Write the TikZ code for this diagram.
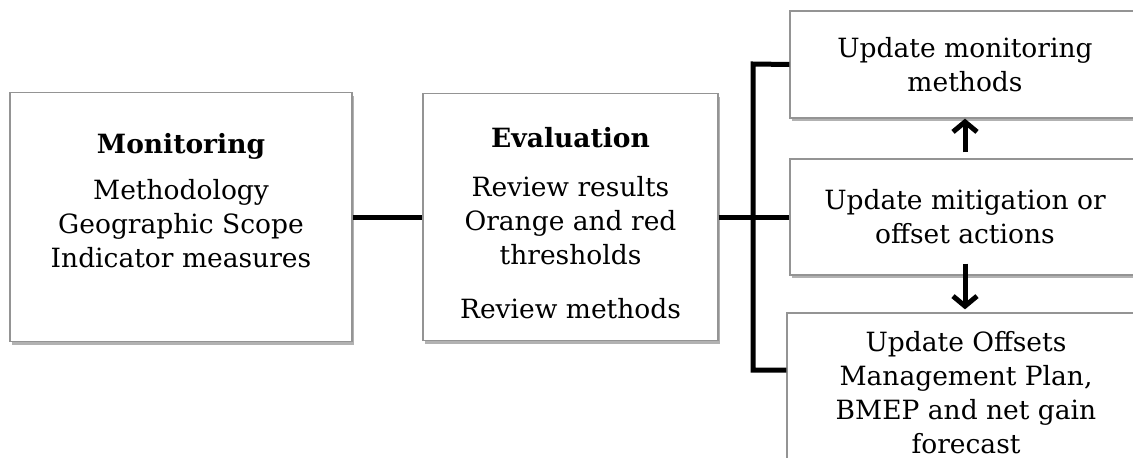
\documentclass[tikz,border=0pt]{standalone}
\usepackage{fontspec}
\setmainfont{DejaVu Serif}
\usetikzlibrary{arrows.meta,shadows}

\begin{document}
\begin{tikzpicture}[x=1pt,y=-1pt,
  stagebox/.style={draw=black!42, line width=1.3pt, fill=white, inner sep=0pt,
    align=center, font=\fontsize{26.5}{34}\selectfont,
    drop shadow={shadow xshift=1.5pt, shadow yshift=-3pt, opacity=.5, fill=black!60}},
  link/.style={line width=5pt},
  flow/.style={line width=5pt, -{Straight Barb[length=10pt,width=24pt]}}]
\useasboundingbox (0,0) rectangle (1133,458);
\clip (0,0) rectangle (1133,458);

\node [stagebox, minimum width=342, minimum height=249] (mon) at (181,217)
  {\textbf{Monitoring}\\[12pt] Methodology\\ Geographic Scope\\ Indicator measures\\[0pt]\mbox{}};
\node [stagebox, minimum width=295, minimum height=247] (eval) at (570.5,217)
  {\textbf{\rule{0pt}{32pt}Evaluation}\\[15pt] Review results\\ Orange and red\\ thresholds\\[20pt] Review methods};
\node [stagebox, minimum width=350, minimum height=107] (upmon) at (965,64.5)
  {Update monitoring\\ methods};
\node [stagebox, minimum width=350, minimum height=116] (upmit) at (965,217)
  {Update mitigation or\\ offset actions};
\node [stagebox, minimum width=358, minimum height=160] (upoff) at (966,393)
  {Update Offsets\\ Management Plan,\\ BMEP and net gain\\ forecast};

\coordinate (brtop) at (753,64);
\coordinate (brbot) at (753,370);

\draw [link] (mon.east) -- (eval.west);
\draw [link] (eval.east) -- (upmit.west);
\draw [link] (upmon.west) -- (brtop) -- (brbot) -- (upoff.west |- brbot);

% feedback between the update steps
\draw [flow, shorten <=6pt] (upmit.north) -- (upmon.south);
\draw [flow, shorten <=-12pt, shorten >=3pt] (upmit.south) -- (upmit.south |- upoff.north);

\end{tikzpicture}
\end{document}
